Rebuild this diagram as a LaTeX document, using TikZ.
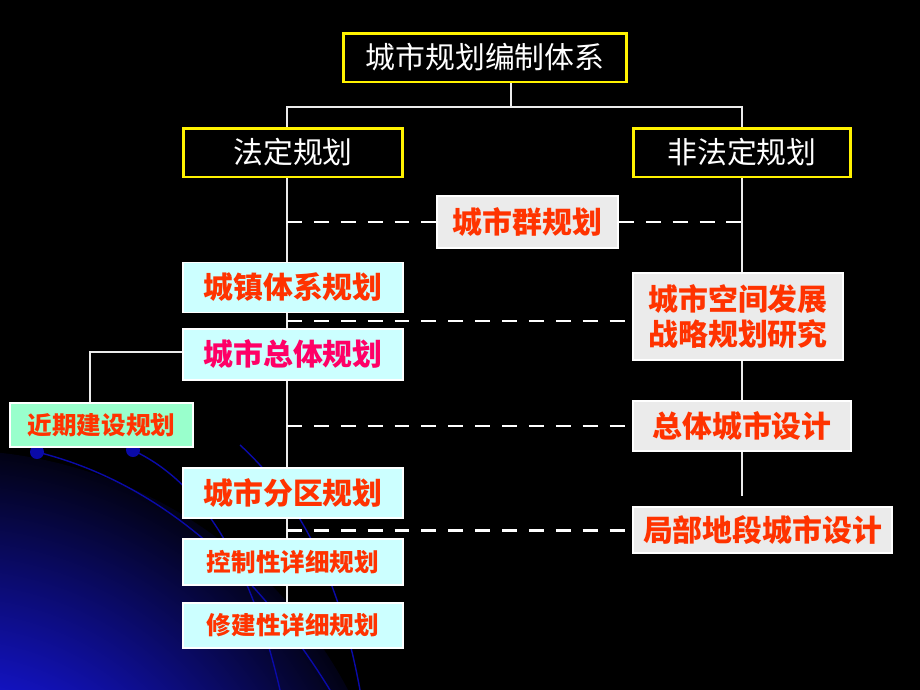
\documentclass[tikz,border=0pt]{standalone}
\usepackage{fontspec}
\newfontfamily\cjk{Noto Sans CJK SC}
\usetikzlibrary{positioning}
\definecolor{planred}{HTML}{FF3300}
\definecolor{planpink}{HTML}{FF0066}
\definecolor{planblue}{HTML}{CCFFFF}
\definecolor{plangreen}{HTML}{99FFCC}
\definecolor{plangray}{HTML}{EBEBEB}
\definecolor{glowA}{HTML}{1414CC}
\definecolor{glowB}{HTML}{020214}
\definecolor{arcblue}{HTML}{0A0AA8}
\pgfdeclareradialshading{glow}{\pgfpoint{0bp}{0bp}}{color(0bp)=(glowA); color(11bp)=(glowA); color(25bp)=(glowB); color(50bp)=(glowB)}
\tikzset{
  headbox/.style={draw=yellow, line width=1.7pt, fill=black, text=white, inner sep=0pt,
    font=\cjk\fontsize{17}{20}\selectfont},
  lawbox/.style={draw=white, line width=1.1pt, fill=planblue, text=planred, inner sep=0pt,
    minimum width=4.4cm, font=\cjk\bfseries\fontsize{17}{20}\selectfont},
  freebox/.style={lawbox, fill=plangray},
  trunk/.style={draw=white!92!black, line width=1.3pt},
  tie/.style={draw=white, line width=1.7pt, dash pattern=on 8.5pt off 6.8pt}
}
\begin{document}
\begin{tikzpicture}[x=0.02cm, y=-0.02cm]
%%Canvas
\clip (0,0) rectangle (920,690);
\fill[black] (0,0) rectangle (920,690);
\shade[shading=glow] (-50,900) circle (450);
\draw[arcblue, line width=0.8pt] (37,452) .. controls (150,480) and (250,560) .. (330,690);
\draw[arcblue, line width=0.8pt] (130,449) .. controls (200,480) and (250,560) .. (280,690);
\draw[arcblue, line width=0.8pt] (240,445) .. controls (300,500) and (340,580) .. (360,690);
\fill[arcblue] (37,452) circle (7);
\fill[arcblue] (133,450) circle (7);

%%Head and the two branches
\node[headbox, minimum width=5.68cm, minimum height=0.98cm] (sys) at (485,57.5) {城市规划编制体系};
\node[headbox, minimum width=4.4cm, minimum height=0.98cm] (legal) at (293,152.5) {法定规划};
\node[headbox, minimum width=4.36cm, minimum height=0.98cm] (nonlegal) at (742,152.5) {非法定规划};

%%Statutory plans
\node[lawbox, minimum height=1cm] (townsys) at (293,287.5) {城镇体系规划};
\node[lawbox, minimum height=1.02cm, text=planpink] (master) at (293,354.5) {城市总体规划};
\node[lawbox, minimum height=1cm] (district) at (293,493) {城市分区规划};
\node[lawbox, minimum height=0.92cm, font=\cjk\bfseries\fontsize{14}{16}\selectfont] (control) at (293,562) {控制性详细规划};
\node[lawbox, minimum height=0.9cm, font=\cjk\bfseries\fontsize{14}{16}\selectfont] (detail) at (293,625.5) {修建性详细规划};
\node[lawbox, fill=plangreen, minimum width=3.66cm, minimum height=0.88cm, font=\cjk\bfseries\fontsize{14}{16}\selectfont] (nearterm) at (101.5,425) {近期建设规划};

%%Non-statutory plans
\node[freebox, minimum width=3.62cm, minimum height=1.04cm] (cluster) at (527.5,222) {城市群规划};
\node[freebox, minimum width=4.2cm, minimum height=1.74cm, align=center] (strategy) at (738,316.5) {城市空间发展\\战略规划研究};
\node[freebox, minimum width=4.36cm, minimum height=1cm] (urbandes) at (742,426) {总体城市设计};
\node[freebox, minimum width=5.18cm, minimum height=0.92cm] (localdes) at (762.5,530) {局部地段城市设计};

%%Tree
\coordinate (lt) at (287,107);
\coordinate (rt) at (742,107);
\coordinate (rend) at (742,496);
\coordinate (nt) at (90,352);
\draw[trunk] (sys.south -| 511,0) -- (511,107);
\draw[trunk] (legal.north -| lt) -- (lt) -- (rt) -- (nonlegal.north -| rt);
\foreach \a/\b in {legal/townsys, townsys/master, master/district, district/control, control/detail}
  \draw[trunk] (\a.south -| lt) -- (\b.north -| lt);
\foreach \a/\b in {nonlegal/strategy, strategy/urbandes}
  \draw[trunk] (\a.south -| rt) -- (\b.north -| rt);
\draw[trunk] (urbandes.south -| rt) -- (rend);
\draw[trunk] (nearterm.north -| nt) -- (nt) -- (nt -| master.west);

%%Dashed ties
\draw[tie] (lt |- cluster.west) -- (cluster.west);
\draw[tie] (cluster.east) -- (rt |- cluster.east);
\draw[tie] (287,321) -- (strategy.west |- 0,321);
\draw[tie] (lt |- urbandes.west) -- (urbandes.west);
\draw[tie] (lt |- localdes.west) -- (localdes.west);
\end{tikzpicture}
\end{document}
